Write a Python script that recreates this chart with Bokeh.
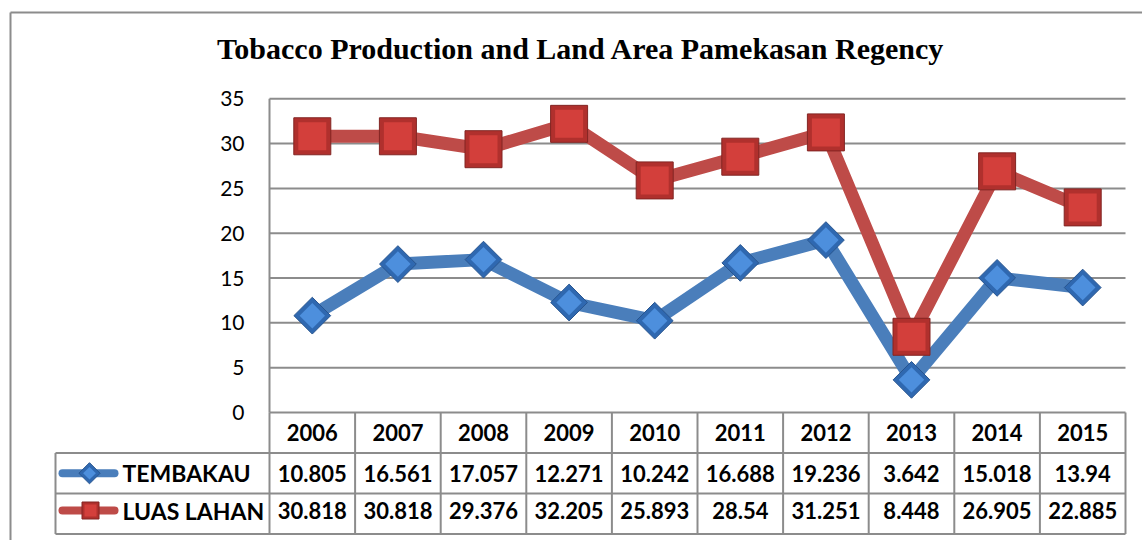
from bokeh.plotting import figure
from bokeh.models import Range1d
from bokeh.core.properties import value
from bokeh.embed import file_html
from bokeh.resources import INLINE

# ---------------- data ----------------
years = ["2006", "2007", "2008", "2009", "2010", "2011", "2012", "2013", "2014", "2015"]
tembakau = [10.805, 16.561, 17.057, 12.271, 10.242, 16.688, 19.236, 3.642, 15.018, 13.94]
luas_lahan = [30.818, 30.818, 29.376, 32.205, 25.893, 28.54, 31.251, 8.448, 26.905, 22.885]
y_ticks = [0, 5, 10, 15, 20, 25, 30, 35]
series_names = ["TEMBAKAU", "LUAS LAHAN"]
title_text = "Tobacco Production and Land Area Pamekasan Regency"

# ---------------- layout (pixel geometry) ----------------
W, H = 1142, 540
PLOT_LEFT_PX = 269.0      # left edge of plot area (px)
ZERO_PX = 412.0           # y of value 0 (px)
COL_PX = 85.6             # width of one category column
UNIT_PX = 8.963           # pixels per value unit


def xd(px):
    return (px - PLOT_LEFT_PX) / COL_PX


def yd(px):
    return (ZERO_PX - px) / UNIT_PX


ROW_H = 40.5 / UNIT_PX    # table row height in value units
N = len(years)
xs = [i + 0.5 for i in range(N)]

BLUE = "#4A7EBB"
RED = "#BE4B48"
GRID = "#8C8C8C"
FONT = "Lato"

p = figure(width=W, height=H, output_backend="svg", toolbar_location=None,
           x_range=Range1d(xd(0), xd(W)), y_range=Range1d(yd(H), yd(0)),
           x_axis_location=None, y_axis_location=None, min_border=0)
p.grid.visible = False
p.outline_line_color = None
p.background_fill_color = "white"
p.border_fill_color = "white"

# outer chart border (left and top)
bx = xd(10)
by = yd(12)
p.segment(x0=[bx, bx], y0=[by, by], x1=[bx, xd(W)], y1=[yd(H), by],
          line_color=GRID, line_width=2)

# title
p.text(x=[xd(580.5)], y=[yd(48)], text=[title_text], text_font=value("Liberation Serif"),
       text_font_style="bold", text_font_size=value("30px"), text_align="center",
       text_baseline="middle", text_color="black")

# horizontal gridlines
p.segment(x0=[0] * len(y_ticks), x1=[N] * len(y_ticks), y0=y_ticks, y1=y_ticks,
          line_color=GRID, line_width=2)

# y tick labels
p.text(x=[xd(244)] * len(y_ticks), y=y_ticks, text=[str(t) for t in y_ticks],
       text_font=value(FONT), text_font_size=value("21px"), text_align="right",
       text_baseline="middle", text_color="black")

# table grid
tb = -3 * ROW_H
leg_x = xd(55)
hy = [-ROW_H, -2 * ROW_H, tb]
p.segment(x0=[leg_x] * 3, x1=[N] * 3, y0=hy, y1=hy, line_color=GRID, line_width=2)
vx = list(range(N + 1))
p.segment(x0=vx, x1=vx, y0=[0] * len(vx), y1=[tb] * len(vx), line_color=GRID, line_width=2)
p.segment(x0=[0], x1=[0], y0=[max(y_ticks)], y1=[0], line_color=GRID, line_width=2)
p.segment(x0=[leg_x], x1=[leg_x], y0=[-ROW_H], y1=[tb], line_color=GRID, line_width=2)

# header (years)
p.text(x=xs, y=[-0.5 * ROW_H] * N, text=years, text_font=value(FONT), text_font_style="bold",
       text_font_size=value("22px"), text_align="center", text_baseline="middle",
       text_color="black")
# values
row_y = [-1.5 * ROW_H, -2.42 * ROW_H]
for r, vals in enumerate([tembakau, luas_lahan]):
    p.text(x=xs, y=[row_y[r]] * N, text=[str(v) for v in vals],
           text_font=value(FONT), text_font_style="bold", text_font_size=value("22px"),
           text_align="center", text_baseline="middle", text_color="black")

# row labels + legend swatches
p.text(x=[xd(122)] * 2, y=row_y, text=series_names, text_font=value(FONT),
       text_font_style="bold", text_font_size=value("23px"), text_align="left",
       text_baseline="middle", text_color="black")
p.segment(x0=[xd(62)], x1=[xd(114)], y0=[row_y[0]], y1=[row_y[0]], line_color=BLUE,
          line_width=8, line_cap="round")
p.segment(x0=[xd(62)], x1=[xd(114)], y0=[row_y[1]], y1=[row_y[1]], line_color=RED,
          line_width=8, line_cap="round")
p.scatter(x=[xd(89)], y=[row_y[0]], marker="square", angle=0.785398, size=15,
          fill_color="#2F68B0", line_color="#28558F", line_width=1)
p.scatter(x=[xd(89)], y=[row_y[0]], marker="square", angle=0.785398, size=9,
          fill_color="#4D8FDD", line_color=None)
p.scatter(x=[xd(90)], y=[row_y[1]], marker="square", size=17,
          fill_color="#B0302D", line_color="#822523", line_width=1)
p.scatter(x=[xd(90)], y=[row_y[1]], marker="square", size=12,
          fill_color="#D33F3B", line_color=None)

# series lines
p.line(x=xs, y=tembakau, line_color=BLUE, line_width=13, line_join="round")
p.line(x=xs, y=luas_lahan, line_color=RED, line_width=13, line_join="round")

# markers (two-layer bevel look)
p.scatter(x=xs, y=tembakau, marker="square", angle=0.785398, size=26,
          fill_color="#2F68B0", line_color="#28558F", line_width=1)
p.scatter(x=xs, y=tembakau, marker="square", angle=0.785398, size=18,
          fill_color="#4D8FDD", line_color=None)
p.scatter(x=xs, y=luas_lahan, marker="square", size=37,
          fill_color="#B0302D", line_color="#822523", line_width=1)
p.scatter(x=xs, y=luas_lahan, marker="square", size=28,
          fill_color="#D33F3B", line_color=None)

open("out.html", "w").write(file_html(p, INLINE))
